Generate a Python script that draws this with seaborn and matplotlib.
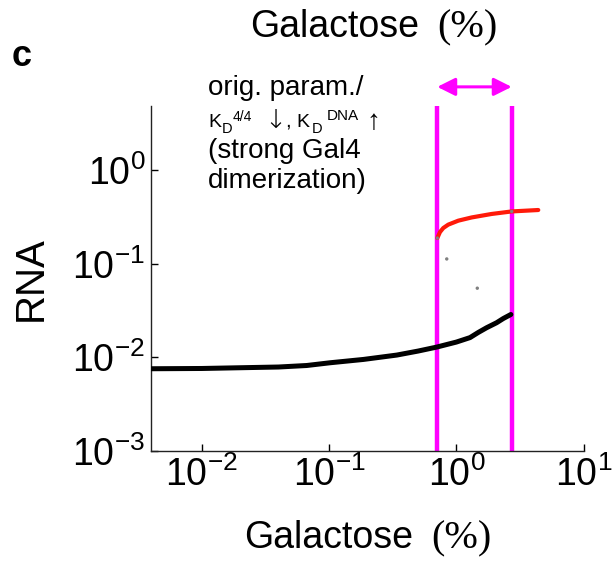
import matplotlib
matplotlib.use("Agg")
import matplotlib.pyplot as plt
import pandas as pd
import seaborn as sns

# values (log-log axes)
black_x = [0.00392, 0.0100, 0.020, 0.040, 0.0667, 0.1016, 0.186, 0.340,
           0.50, 0.70, 1.0, 1.28, 1.486, 1.73, 2.07, 2.34, 2.68]
black_y = [0.00757, 0.00762, 0.00776, 0.0079, 0.0082, 0.00877, 0.00952, 0.0106,
           0.0117, 0.0129, 0.0146, 0.0163, 0.0185, 0.0208, 0.0235, 0.0261, 0.0288]
red_x = [0.708, 0.743, 0.789, 0.863, 1.035, 1.319, 1.89, 2.72, 4.40]
red_y = [0.189, 0.219, 0.242, 0.263, 0.290, 0.314, 0.342, 0.364, 0.377]
dot_x = [0.708, 0.84, 1.46, 2.72]
dot_y = [0.189, 0.113, 0.055, 0.364]
bounds = [0.708, 2.72]

sns.set_theme(style="ticks")
plt.rcParams["font.family"] = ["Liberation Sans", "DejaVu Sans"]
plt.rcParams["mathtext.fontset"] = "custom"
plt.rcParams["mathtext.rm"] = "Liberation Sans"
plt.rcParams["mathtext.it"] = "Liberation Sans:italic"
for k in ["text.color", "axes.labelcolor", "xtick.color", "ytick.color"]:
    plt.rcParams[k] = "black"

MAGENTA = "#ff00ff"
W, H = 615, 563

fig = plt.figure(figsize=(6.15, 5.63), dpi=100)
ax = fig.add_axes([0.245, 0.199, 0.704, 0.613])

black = pd.DataFrame({"x": black_x, "y": black_y})
red = pd.DataFrame({"x": red_x, "y": red_y})
sns.lineplot(data=black, x="x", y="y", ax=ax, color="black", lw=3.6,
             solid_capstyle="round", solid_joinstyle="round", zorder=3)
sns.lineplot(data=red, x="x", y="y", ax=ax, color="#ff1a0a", lw=3.0,
             solid_capstyle="round", solid_joinstyle="round", zorder=3)
sns.scatterplot(x=dot_x, y=dot_y, ax=ax, color="#808080", s=6,
                edgecolor="none", zorder=4)

for b in bounds:
    ax.axvline(b, color=MAGENTA, lw=3.2, zorder=2)

ax.annotate("", xy=(bounds[1], 1.055), xytext=(bounds[0], 1.055),
            xycoords=ax.get_xaxis_transform(),
            textcoords=ax.get_xaxis_transform(),
            annotation_clip=False,
            arrowprops=dict(arrowstyle="<|-|>,head_length=0.9,head_width=0.45",
                            color=MAGENTA, lw=2.2, shrinkA=0, shrinkB=0))

ax.set_xscale("log")
ax.set_yscale("log")
ax.set_xlim(0.00396, 10)
ax.set_ylim(1e-3, 4.9)
ax.set_xticks([1e-2, 1e-1, 1e0, 1e1])
ax.set_yticks([1e-3, 1e-2, 1e-1, 1e0])
ax.minorticks_off()
ax.tick_params(direction="in", length=5, width=1, labelsize=27, pad=4)
sns.despine(ax=ax)
for s in ["left", "bottom"]:
    ax.spines[s].set_linewidth(1)
    ax.spines[s].set_color("#222222")

ax.set_xlabel("")
ax.set_ylabel("RNA", fontsize=29)
ax.yaxis.set_label_coords(-0.232, 0.5)


def px_text(x, y, s, **kw):
    # place text at pixel position (from top-left), baseline aligned
    kw.setdefault("va", "baseline")
    return fig.text(x / W, 1 - y / H, s, **kw)


# x-axis label, drawn at bottom and repeated at top
for (gx, px, y) in [(244, 431, 538), (250, 437, 27)]:
    px_text(gx, y, "Galactose", fontsize=27, ha="left", va="center")
    px_text(px, y + 1, "(%)", fontsize=29, ha="left", va="center",
            family=["Liberation Serif", "DejaVu Serif"])

px_text(12, 57, "c", fontsize=26, fontweight="bold", ha="left", va="center")

# annotation block
px_text(208, 95, "orig. param./", fontsize=20)
px_text(208, 127, "K", fontsize=14)
px_text(222, 133, "D", fontsize=10.5)
px_text(233, 121, "4/4", fontsize=10)
px_text(264, 128, "↓", fontsize=19, fontweight="light", family=["DejaVu Sans"])
px_text(285, 127, ",", fontsize=15)
px_text(296, 127, "K", fontsize=14)
px_text(312, 133, "D", fontsize=10.5)
px_text(327, 120, "DNA", fontsize=11)
px_text(366, 129, "↑", fontsize=20)
px_text(208, 158, "(strong Gal4", fontsize=20)
px_text(208, 188, "dimerization)", fontsize=20)

fig.savefig("out.png", dpi=100)
